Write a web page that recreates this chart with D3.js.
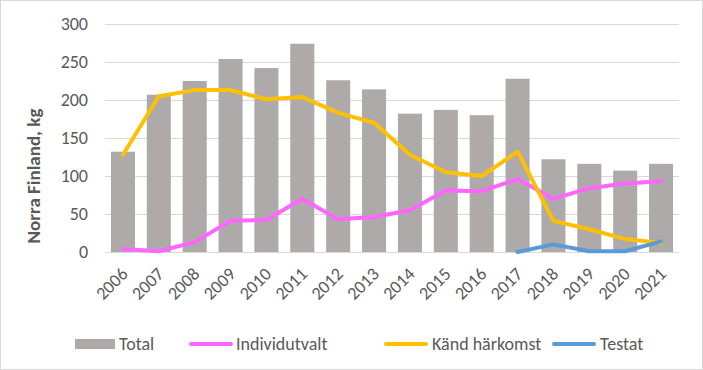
<!DOCTYPE html>
<html>
<head>
<meta charset="utf-8">
<script src="https://cdn.jsdelivr.net/npm/d3@7"></script>
<style>
    body { margin: 0; background: #fff; }
    svg { display: block; font-family: Carlito, "Liberation Sans Narrow", "Liberation Sans", Arial, sans-serif; }
</style>
</head>
<body>
<svg id="chart" width="703" height="370"></svg>
<script>
const years = ['2006','2007','2008','2009','2010','2011','2012','2013','2014','2015','2016','2017','2018','2019','2020','2021'];
const total = [132, 207, 225, 254, 242, 274, 226, 214, 182, 187, 180, 228, 122, 116, 107, 116];
const individutvalt = [4, 1, 13, 41, 42, 70, 43, 46, 55, 81, 80, 96, 70, 84, 90, 93];
const kandHarkomst = [128, 205, 213, 213, 201, 204, 183, 170, 128, 105, 100, 132, 41, 30, 17, 12];
const testat = [null, null, null, null, null, null, null, null, null, null, null, 0, 10, 1, 1, 14];
const yTicks = [0, 50, 100, 150, 200, 250, 300];

const W = 703, H = 370;
const plot = {left: 105, right: 679, top: 24, bottom: 252};

const svg = d3.select('#chart');

// outer border
svg.append('rect')
    .attr('x', 0.5).attr('y', 0.5)
    .attr('width', W - 1).attr('height', H - 1)
    .attr('fill', '#fff').attr('stroke', '#d9d9d9');

const x = d3.scaleBand().domain(years).range([plot.left, plot.right]).paddingInner(0.33).paddingOuter(0.165);
const y = d3.scaleLinear().domain([0, 300]).range([plot.bottom, plot.top]);
const cx = d => x(d) + x.bandwidth() / 2;

// gridlines
svg.append('g').selectAll('line')
    .data(yTicks)
    .enter().append('line')
    .attr('x1', plot.left).attr('x2', plot.right)
    .attr('y1', d => Math.round(y(d)) + 0.5).attr('y2', d => Math.round(y(d)) + 0.5)
    .attr('stroke', '#d9d9d9').attr('stroke-width', 1);

// y tick labels
svg.append('g').selectAll('text')
    .data(yTicks)
    .enter().append('text')
    .attr('x', 88).attr('y', d => y(d))
    .attr('dy', '0.35em')
    .attr('text-anchor', 'end')
    .attr('font-size', 18)
    .attr('fill', '#595959')
    .text(d => d);

// y axis title
svg.append('text')
    .attr('transform', 'translate(40,176) rotate(-90)')
    .attr('text-anchor', 'middle')
    .attr('font-size', 19)
    .attr('font-weight', 'bold')
    .attr('fill', '#595959')
    .text('Norra Finland, kg');

// bars
svg.append('g').selectAll('rect')
    .data(total)
    .enter().append('rect')
    .attr('x', (d, i) => x(years[i]))
    .attr('y', d => y(d))
    .attr('width', x.bandwidth())
    .attr('height', d => y(0) - y(d))
    .attr('fill', '#aeaaaa');

// x tick labels
svg.append('g').selectAll('text')
    .data(years)
    .enter().append('text')
    .attr('transform', d => 'translate(' + (cx(d) - 3) + ',266) rotate(-45)')
    .attr('dy', '0.71em')
    .attr('text-anchor', 'end')
    .attr('font-size', 18)
    .attr('fill', '#595959')
    .text(d => d);

const line = d3.line()
    .defined(d => d[1] !== null)
    .x(d => cx(d[0]))
    .y(d => y(d[1]));

const series = [
    {name: 'Individutvalt', values: individutvalt, color: '#ff66ff'},
    {name: 'Känd härkomst', values: kandHarkomst, color: '#ffc000'},
    {name: 'Testat', values: testat, color: '#5b9bd5'}
];

series.forEach(s => {
    svg.append('path')
        .datum(years.map((yr, i) => [yr, s.values[i]]))
        .attr('d', line)
        .attr('fill', 'none')
        .attr('stroke', s.color)
        .attr('stroke-width', 4)
        .attr('stroke-linejoin', 'round')
        .attr('stroke-linecap', 'round');
});

// legend
const legend = svg.append('g').attr('font-size', 18).attr('fill', '#595959');
const ly = 344;
legend.append('rect').attr('x', 75).attr('y', ly - 5).attr('width', 40).attr('height', 10).attr('fill', '#aeaaaa');
legend.append('text').attr('x', 119).attr('y', ly).attr('dy', '0.35em').text('Total');
const legendLines = [
    {x: 190, tx: 236, s: series[0]},
    {x: 385, tx: 432, s: series[1]},
    {x: 553, tx: 600, s: series[2]}
];
legendLines.forEach(l => {
    legend.append('line')
        .attr('x1', l.x + 1).attr('x2', l.x + 41)
        .attr('y1', ly).attr('y2', ly)
        .attr('stroke', l.s.color).attr('stroke-width', 4).attr('stroke-linecap', 'round');
    legend.append('text').attr('x', l.tx).attr('y', ly).attr('dy', '0.35em').text(l.s.name);
});
</script>
</body>
</html>
